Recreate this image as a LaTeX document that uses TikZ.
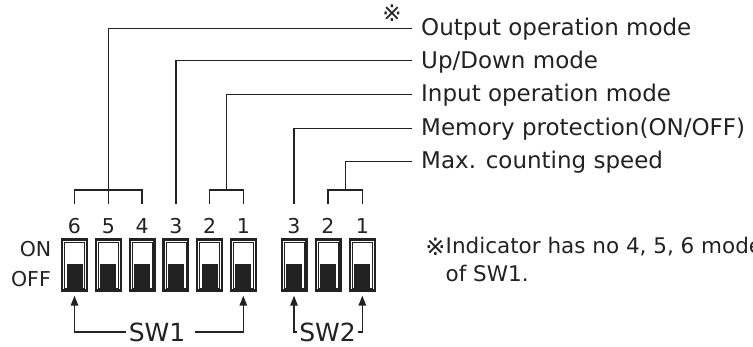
\documentclass[tikz,border=0pt]{standalone}
\usepackage{fontspec}
\setmainfont{DejaVu Sans}
\usetikzlibrary{arrows.meta}
\definecolor{ink}{HTML}{222222}
\begin{document}
\begin{tikzpicture}[x=1pt,y=-1pt,
  sw/.style={draw=ink,line width=2.3pt,minimum width=24.7pt,minimum height=51pt,inner sep=0pt},
  conn/.style={draw=ink,line width=1.3pt},
  arr/.style={conn,-{Triangle[length=10pt,width=7.5pt]},shorten >=4pt},
  lab/.style={anchor=base west,inner xsep=9pt,inner ysep=0pt,font=\fontsize{23}{26}\selectfont,text=ink},
  num/.style={anchor=base,inner sep=0pt,font=\fontsize{20.5}{24}\selectfont,text=ink},
  side/.style={anchor=base east,inner sep=0pt,font=\fontsize{20.5}{24}\selectfont,text=ink},
  swlab/.style={inner sep=0pt,font=\fontsize{25}{28}\selectfont,text=ink},
  note/.style={anchor=base west,inner sep=0pt,font=\fontsize{21.5}{24}\selectfont,text=ink}]
\useasboundingbox (0,0) rectangle (753,347);
\clip (0,0) rectangle (753,347);
% switches
\foreach \n/\x/\t in {a6/74.5/6,a5/108.3/5,a4/142.1/4,a3/175.9/3,a2/209.6/2,a1/243.3/1,b3/294/3,b2/328/2,b1/362.3/1} {
  \node[sw] (\n) at (\x,265) {};
  \draw[ink,line width=0.7pt] (\x-10,242.5) rectangle (\x+10,288);
  \fill[ink] (\x-8,264) rectangle (\x+8,288);
  \node[num] (n\n) at (\x,233.3) {\t};
  \coordinate (k\n) at (\x,204);
}
\node[side] (on) at (51.5,256.7) {ON};
\node[side] (off) at (51,286.7) {OFF};
% brackets
\coordinate (m654) at (108.3,190);
\coordinate (m21) at (226.45,190);
\coordinate (mb21) at (345.15,190);
\draw[conn] (ka6) |- (m654) -| (ka4);
\draw[conn] (ka2) |- (m21) -| (ka1);
\draw[conn] (kb2) |- (mb21) -| (kb1);
% labels
\node[lab] (lout) at (412,35.8) {Output operation mode};
\node[lab] (lud) at (412,68.2) {Up/Down mode};
\node[lab] (lin) at (412,102) {Input operation mode};
\node[lab] (lmem) at (412,135.5) {Memory protection(ON/OFF)};
\node[lab] (lmax) at (412,168.8) {Max. counting speed};
\coordinate (cout) at (412,28.3);
\coordinate (cud) at (412,60.5);
\coordinate (cin) at (412,94.8);
\coordinate (cmem) at (412,128.3);
\coordinate (cmax) at (412,161.6);
\draw[conn] (cout) -| (ka5);
\draw[conn] (cud) -| (ka3);
\draw[conn] (cin) -| (m21);
\draw[conn] (cmem) -| (kb3);
\draw[conn] (cmax) -| (mb21);
\node[inner sep=0pt,font=\fontsize{23}{26}\selectfont,text=ink] (star) at (392,13) {※};
% SW labels and arrows
\node[swlab] (lsw1) at (157,332) {SW1};
\node[swlab] (lsw2) at (327.5,332) {SW2};
\draw[arr] ([xshift=-3pt]lsw1.west) -| (a6.south);
\draw[arr] ([xshift=10pt]lsw1.east) -| (a1.south);
\draw[arr] ([xshift=-2pt]lsw2.west) -| (b3.south);
\draw[arr] ([xshift=2pt]lsw2.east) -| (b1.south);
% footnote
\node[inner sep=0pt,font=\fontsize{24}{26}\selectfont,text=ink] (nstar) at (435.5,246.5) {※};
\node[note] (n1) at (445.5,254) {Indicator has no 4, 5, 6 mode};
\node[note] (n2) at (445.5,281.7) {of SW1.};
\end{tikzpicture}
\end{document}
